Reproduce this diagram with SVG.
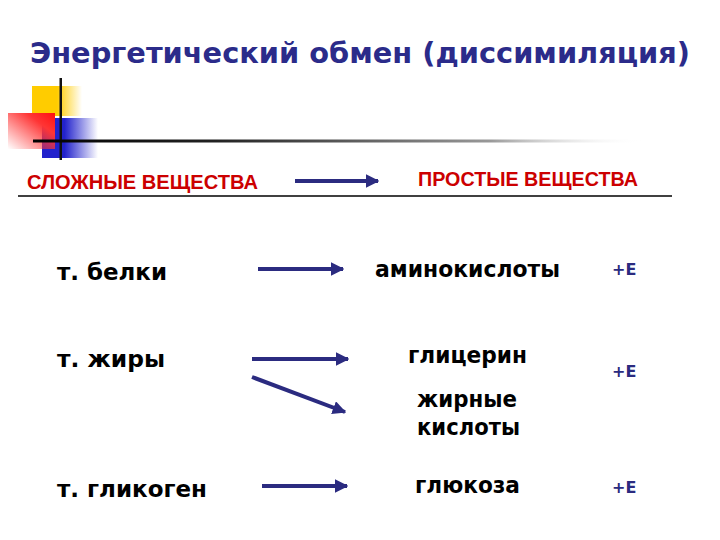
<svg xmlns="http://www.w3.org/2000/svg" width="720" height="540" viewBox="0 0 720 540">
<defs>
<linearGradient id="gy" x1="0" x2="1" y1="0" y2="0"><stop offset="0" stop-color="#FFCC00"/><stop offset="0.5" stop-color="#FFCC00"/><stop offset="1" stop-color="#FFCC00" stop-opacity="0"/></linearGradient>
<linearGradient id="gb" x1="0" x2="1" y1="0" y2="0"><stop offset="0" stop-color="#2222CC"/><stop offset="0.4" stop-color="#2222CC"/><stop offset="1" stop-color="#2222CC" stop-opacity="0"/></linearGradient>
<linearGradient id="gr" x1="1" x2="0" y1="0" y2="1"><stop offset="0" stop-color="#FF1010"/><stop offset="0.3" stop-color="#FF3535"/><stop offset="1" stop-color="#FF3535" stop-opacity="0"/></linearGradient>
<linearGradient id="gl" x1="0" x2="1" y1="0" y2="0"><stop offset="0" stop-color="#000"/><stop offset="0.3" stop-color="#222"/><stop offset="0.75" stop-color="#999"/><stop offset="1" stop-color="#fff" stop-opacity="0"/></linearGradient>
<marker id="ah" viewBox="0 0 10 10" refX="9" refY="5" markerWidth="3.4" markerHeight="3.4" orient="auto" markerUnits="strokeWidth"><path d="M0,0 L10,5 L0,10 Z" fill="#2B2B80"/></marker>
</defs>
<style>
.t{font-family:"DejaVu Sans","Liberation Sans",sans-serif;font-weight:bold}
.title{fill:#2B2B8A;font-size:29px}
.hdr{fill:#CC0000;font-size:21px;font-family:"Liberation Sans","DejaVu Sans",sans-serif;font-weight:bold}
.b{fill:#000;font-size:22.5px}
.e{fill:#2B2B80;font-size:16px}
.arr{stroke:#2B2B80;stroke-width:4;fill:none;marker-end:url(#ah)}
</style>
<rect width="720" height="540" fill="#fff"/>
<g id="decor">
<rect x="32" y="86" width="50" height="30" fill="url(#gy)"/>
<rect x="42" y="118" width="56" height="40" fill="url(#gb)"/>
<rect x="8" y="113" width="47" height="36" fill="url(#gr)"/>
<rect x="59.5" y="78" width="2.5" height="82" fill="#111"/>
<rect x="33" y="139.5" width="610" height="3" fill="url(#gl)"/>
</g>
<g id="title"><text class="t title" x="30" y="63" textLength="660" lengthAdjust="spacingAndGlyphs">Энергетический обмен (диссимиляция)</text></g>
<g id="header">
<text class="hdr" x="27" y="189" textLength="231" lengthAdjust="spacingAndGlyphs">СЛОЖНЫЕ ВЕЩЕСТВА</text>
<text class="hdr" x="418" y="186" textLength="220" lengthAdjust="spacingAndGlyphs">ПРОСТЫЕ ВЕЩЕСТВА</text>
<line x1="18" y1="196" x2="672" y2="196" stroke="#000" stroke-width="1.5"/>
</g>
<g id="n-belki"><text class="t b" x="57" y="280" textLength="110" lengthAdjust="spacingAndGlyphs">т. белки</text></g>
<g id="n-amino"><text class="t b" x="375" y="277" textLength="185" lengthAdjust="spacingAndGlyphs">аминокислоты</text></g>
<g id="n-e1"><text class="t e" x="612" y="275">+E</text></g>
<g id="n-zhiry"><text class="t b" x="57" y="367" textLength="108" lengthAdjust="spacingAndGlyphs">т. жиры</text></g>
<g id="n-glic"><text class="t b" x="408" y="363" textLength="119" lengthAdjust="spacingAndGlyphs">глицерин</text></g>
<g id="n-zhk"><text class="t b" x="417" y="407" textLength="100" lengthAdjust="spacingAndGlyphs">жирные</text><text class="t b" x="417" y="435" textLength="103" lengthAdjust="spacingAndGlyphs">кислоты</text></g>
<g id="n-e2"><text class="t e" x="612" y="377">+E</text></g>
<g id="n-glik"><text class="t b" x="57" y="497" textLength="150" lengthAdjust="spacingAndGlyphs">т. гликоген</text></g>
<g id="n-gluk"><text class="t b" x="415" y="493" textLength="105" lengthAdjust="spacingAndGlyphs">глюкоза</text></g>
<g id="n-e3"><text class="t e" x="612" y="493">+E</text></g>
<g id="connectors">
<line class="arr" x1="295" y1="181" x2="378" y2="181"/>
<line class="arr" x1="258" y1="269" x2="343" y2="269"/>
<line class="arr" x1="252" y1="359" x2="348" y2="359"/>
<line class="arr" x1="252" y1="377" x2="345" y2="412"/>
<line class="arr" x1="262" y1="486" x2="347" y2="486"/>
</g>
</svg>
